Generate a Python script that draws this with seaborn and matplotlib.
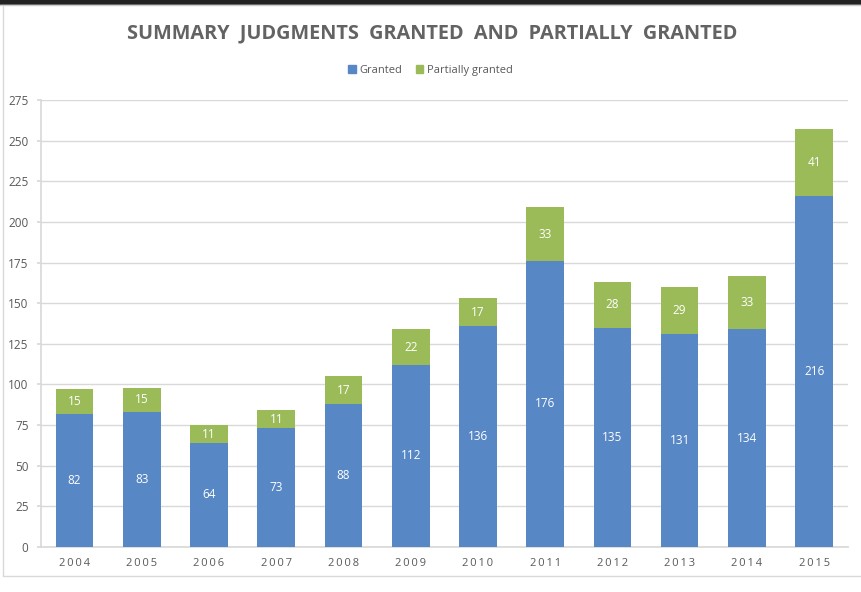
import matplotlib.pyplot as plt
import seaborn as sns
import pandas as pd
from matplotlib.lines import Line2D
from matplotlib.patches import Patch

years = ["2004", "2005", "2006", "2007", "2008", "2009", "2010", "2011", "2012", "2013", "2014", "2015"]
granted = [82, 83, 64, 73, 88, 112, 136, 176, 135, 131, 134, 216]
partial = [15, 15, 11, 11, 17, 22, 17, 33, 28, 29, 33, 41]

blue = "#5787C5"
green = "#9BBB59"

df = pd.DataFrame({"year": years, "granted": granted, "partial": partial})
df["total"] = df["granted"] + df["partial"]

sns.set_theme(style="white")
plt.rcParams["font.family"] = ["Open Sans", "DejaVu Sans"]

fig = plt.figure(figsize=(8.61, 5.92), dpi=100)
ax = fig.add_axes([0.0476, 0.076, 0.937, 0.755])

sns.barplot(data=df, x="year", y="total", color=green, width=0.56, saturation=1,
            linewidth=0, ax=ax, zorder=3)
sns.barplot(data=df, x="year", y="granted", color=blue, width=0.56, saturation=1,
            linewidth=0, ax=ax, zorder=4)

for i, (g, p) in enumerate(zip(granted, partial)):
    ax.text(i, g / 2, str(g), ha="center", va="center", color="white", fontsize=8.5, zorder=5)
    ax.text(i, g + p / 2, str(p), ha="center", va="center", color="white", fontsize=8.5, zorder=5)

ax.set_ylim(0, 275)
ax.set_xlim(-0.5, 11.5)
ax.set_yticks(range(0, 276, 25))
ax.yaxis.grid(True, color="#D9D9D9", linewidth=1, zorder=0)
ax.set_xlabel("")
ax.set_ylabel("")
ax.set_xticks(range(len(years)))
ax.set_xticklabels(["\u2009".join(y) for y in years], fontsize=8, color="#595959")
ax.tick_params(axis="y", labelsize=8.5, labelcolor="#595959", length=3, color="#D9D9D9", left=True, pad=6)
ax.tick_params(axis="x", length=0, pad=8)
for s in ["top", "right"]:
    ax.spines[s].set_visible(False)
ax.spines["left"].set_color("#D9D9D9")
ax.spines["bottom"].set_color("#D9D9D9")

fig.text(0.502, 0.944, "SUMMARY  JUDGMENTS  GRANTED  AND  PARTIALLY  GRANTED",
         ha="center", va="center", fontsize=14.3, fontweight="bold", color="#636363")

handles = [Patch(color=blue, label="Granted"), Patch(color=green, label="Partially granted")]
fig.legend(handles=handles, loc="center", bbox_to_anchor=(0.5, 0.881), ncol=2, frameon=False,
           fontsize=8, handlelength=0.7, handleheight=0.7, handletextpad=0.3, columnspacing=1.2,
           labelcolor="#595959")

# frame around the chart
fig.add_artist(Line2D([0, 1], [0.997, 0.997], color="#222222", linewidth=4, transform=fig.transFigure))
fig.add_artist(Line2D([0, 1], [0.991, 0.991], color="#CCCCCC", linewidth=1, transform=fig.transFigure))
fig.add_artist(Line2D([0.003, 0.003], [0.027, 0.99], color="#D9D9D9", linewidth=1, transform=fig.transFigure))
fig.add_artist(Line2D([0.003, 1], [0.027, 0.027], color="#D9D9D9", linewidth=1, transform=fig.transFigure))

fig.savefig("out.png", dpi=100)
